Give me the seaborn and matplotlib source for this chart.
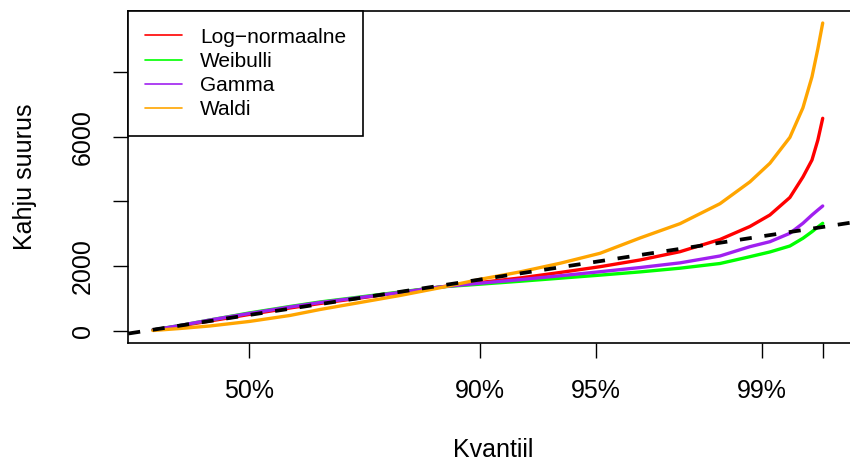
import matplotlib
matplotlib.use("Agg")
import matplotlib.pyplot as plt
from matplotlib.lines import Line2D
import pandas as pd
import seaborn as sns

# Empirical claim-size quantiles (x) and the quantiles of the fitted distributions
empiiriline = [29, 158, 300, 486, 680, 823, 1013, 1203, 1393, 1583, 1773, 1963,
               2153, 2343, 2533, 2723, 2865, 2960, 3055, 3117, 3160, 3188, 3211]
lognormaalne = [22, 146, 300, 502, 703, 842, 1012, 1183, 1353, 1492, 1632, 1802,
                1981, 2189, 2446, 2824, 3226, 3582, 4124, 4759, 5285, 5904, 6576]
weibulli = [22, 161, 331, 548, 749, 889, 1043, 1198, 1353, 1440, 1530, 1625,
            1720, 1820, 1935, 2080, 2291, 2437, 2622, 2861, 3065, 3211, 3325]
gamma = [22, 161, 331, 533, 734, 873, 1028, 1183, 1353, 1470, 1580, 1700,
         1825, 1955, 2100, 2313, 2601, 2755, 3015, 3325, 3582, 3737, 3861]
waldi = [6, 68, 146, 285, 471, 656, 873, 1090, 1330, 1590, 1820, 2087,
         2396, 2870, 3313, 3932, 4607, 5183, 5985, 6901, 7861, 8731, 9526]

jaotused = ["Log\u2212normaalne", "Weibulli", "Gamma", "Waldi"]
varvid = ["#FF0000", "#00FF00", "#A020F0", "#FFA500"]

kvantiilid = [487, 1583, 2134, 2923, 3211]
kvantiili_sildid = ["50%", "90%", "95%", "99%", ""]
y_tikid = [0, 2000, 4000, 6000, 8000]
y_sildid = ["0", "2000", "", "6000", ""]

sns.set_theme(style="white")
plt.rcParams["font.family"] = ["Liberation Sans", "DejaVu Sans"]
plt.rcParams["text.color"] = "black"
plt.rcParams["axes.labelcolor"] = "black"
plt.rcParams["xtick.color"] = "black"
plt.rcParams["ytick.color"] = "black"

df = pd.concat([
    pd.DataFrame({"empiiriline": empiiriline, "teoreetiline": vals, "jaotus": name})
    for name, vals in zip(jaotused, [lognormaalne, weibulli, gamma, waldi])
])

W, H = 850, 461
fig = plt.figure(figsize=(W / 100, H / 100), dpi=100)
left, right, top, bottom = 128.3, 858.0, 11.0, 342.7
ax = fig.add_axes([left / W, 1 - bottom / H, (right - left) / W, (bottom - top) / H])

sns.lineplot(data=df, x="empiiriline", y="teoreetiline", hue="jaotus",
             hue_order=jaotused, palette=varvid, linewidth=2.4,
             estimator=None, sort=False, legend=False, ax=ax)

# reference line y = x
ax.axline((0, 0), slope=1, color="black", linewidth=2.7,
          dashes=(3.2, 3.4), zorder=5)

x0 = 146.8
sx = 0.2105
ax.set_xlim((left - x0) / sx, (right - x0) / sx)
ax.set_ylim(-372, 9898)

ax.set_xticks(kvantiilid)
ax.set_xticklabels(kvantiili_sildid)
ax.set_yticks(y_tikid)
ax.set_yticklabels(y_sildid, rotation=90, va="center")
ax.tick_params(axis="both", direction="out", length=11, width=1.0,
               labelsize=18, colors="black", labelcolor="black",
               bottom=True, left=True)
ax.tick_params(axis="x", pad=15)
ax.tick_params(axis="y", pad=13)
ax.set_xlabel("")
ax.set_ylabel("")

for side in ["left", "bottom", "top", "right"]:
    ax.spines[side].set_color("black")
    ax.spines[side].set_linewidth(1.2)
    ax.spines[side].set_visible(True)

fig.text(493 / W, 1 - 457 / H, "Kvantiil", fontsize=18, color="black",
         ha="center", va="baseline")
fig.text(31.7 / W, 1 - 177 / H, "Kahju suurus", fontsize=18, color="black",
         rotation=90, rotation_mode="anchor", ha="center", va="baseline")

handles = [Line2D([0], [0], color=c, linewidth=1.2) for c in varvid]
leg = ax.legend(handles, jaotused, loc="upper left", bbox_to_anchor=(0, 1),
                borderaxespad=0, fontsize=15, frameon=True, fancybox=False,
                handlelength=1.78, handletextpad=0.86, borderpad=0.8,
                labelspacing=0.25)
leg.get_frame().set_edgecolor("black")
leg.get_frame().set_linewidth(1.2)
leg.get_frame().set_alpha(1)
for t in leg.get_texts():
    t.set_color("black")

fig.savefig("out.png", dpi=100)
